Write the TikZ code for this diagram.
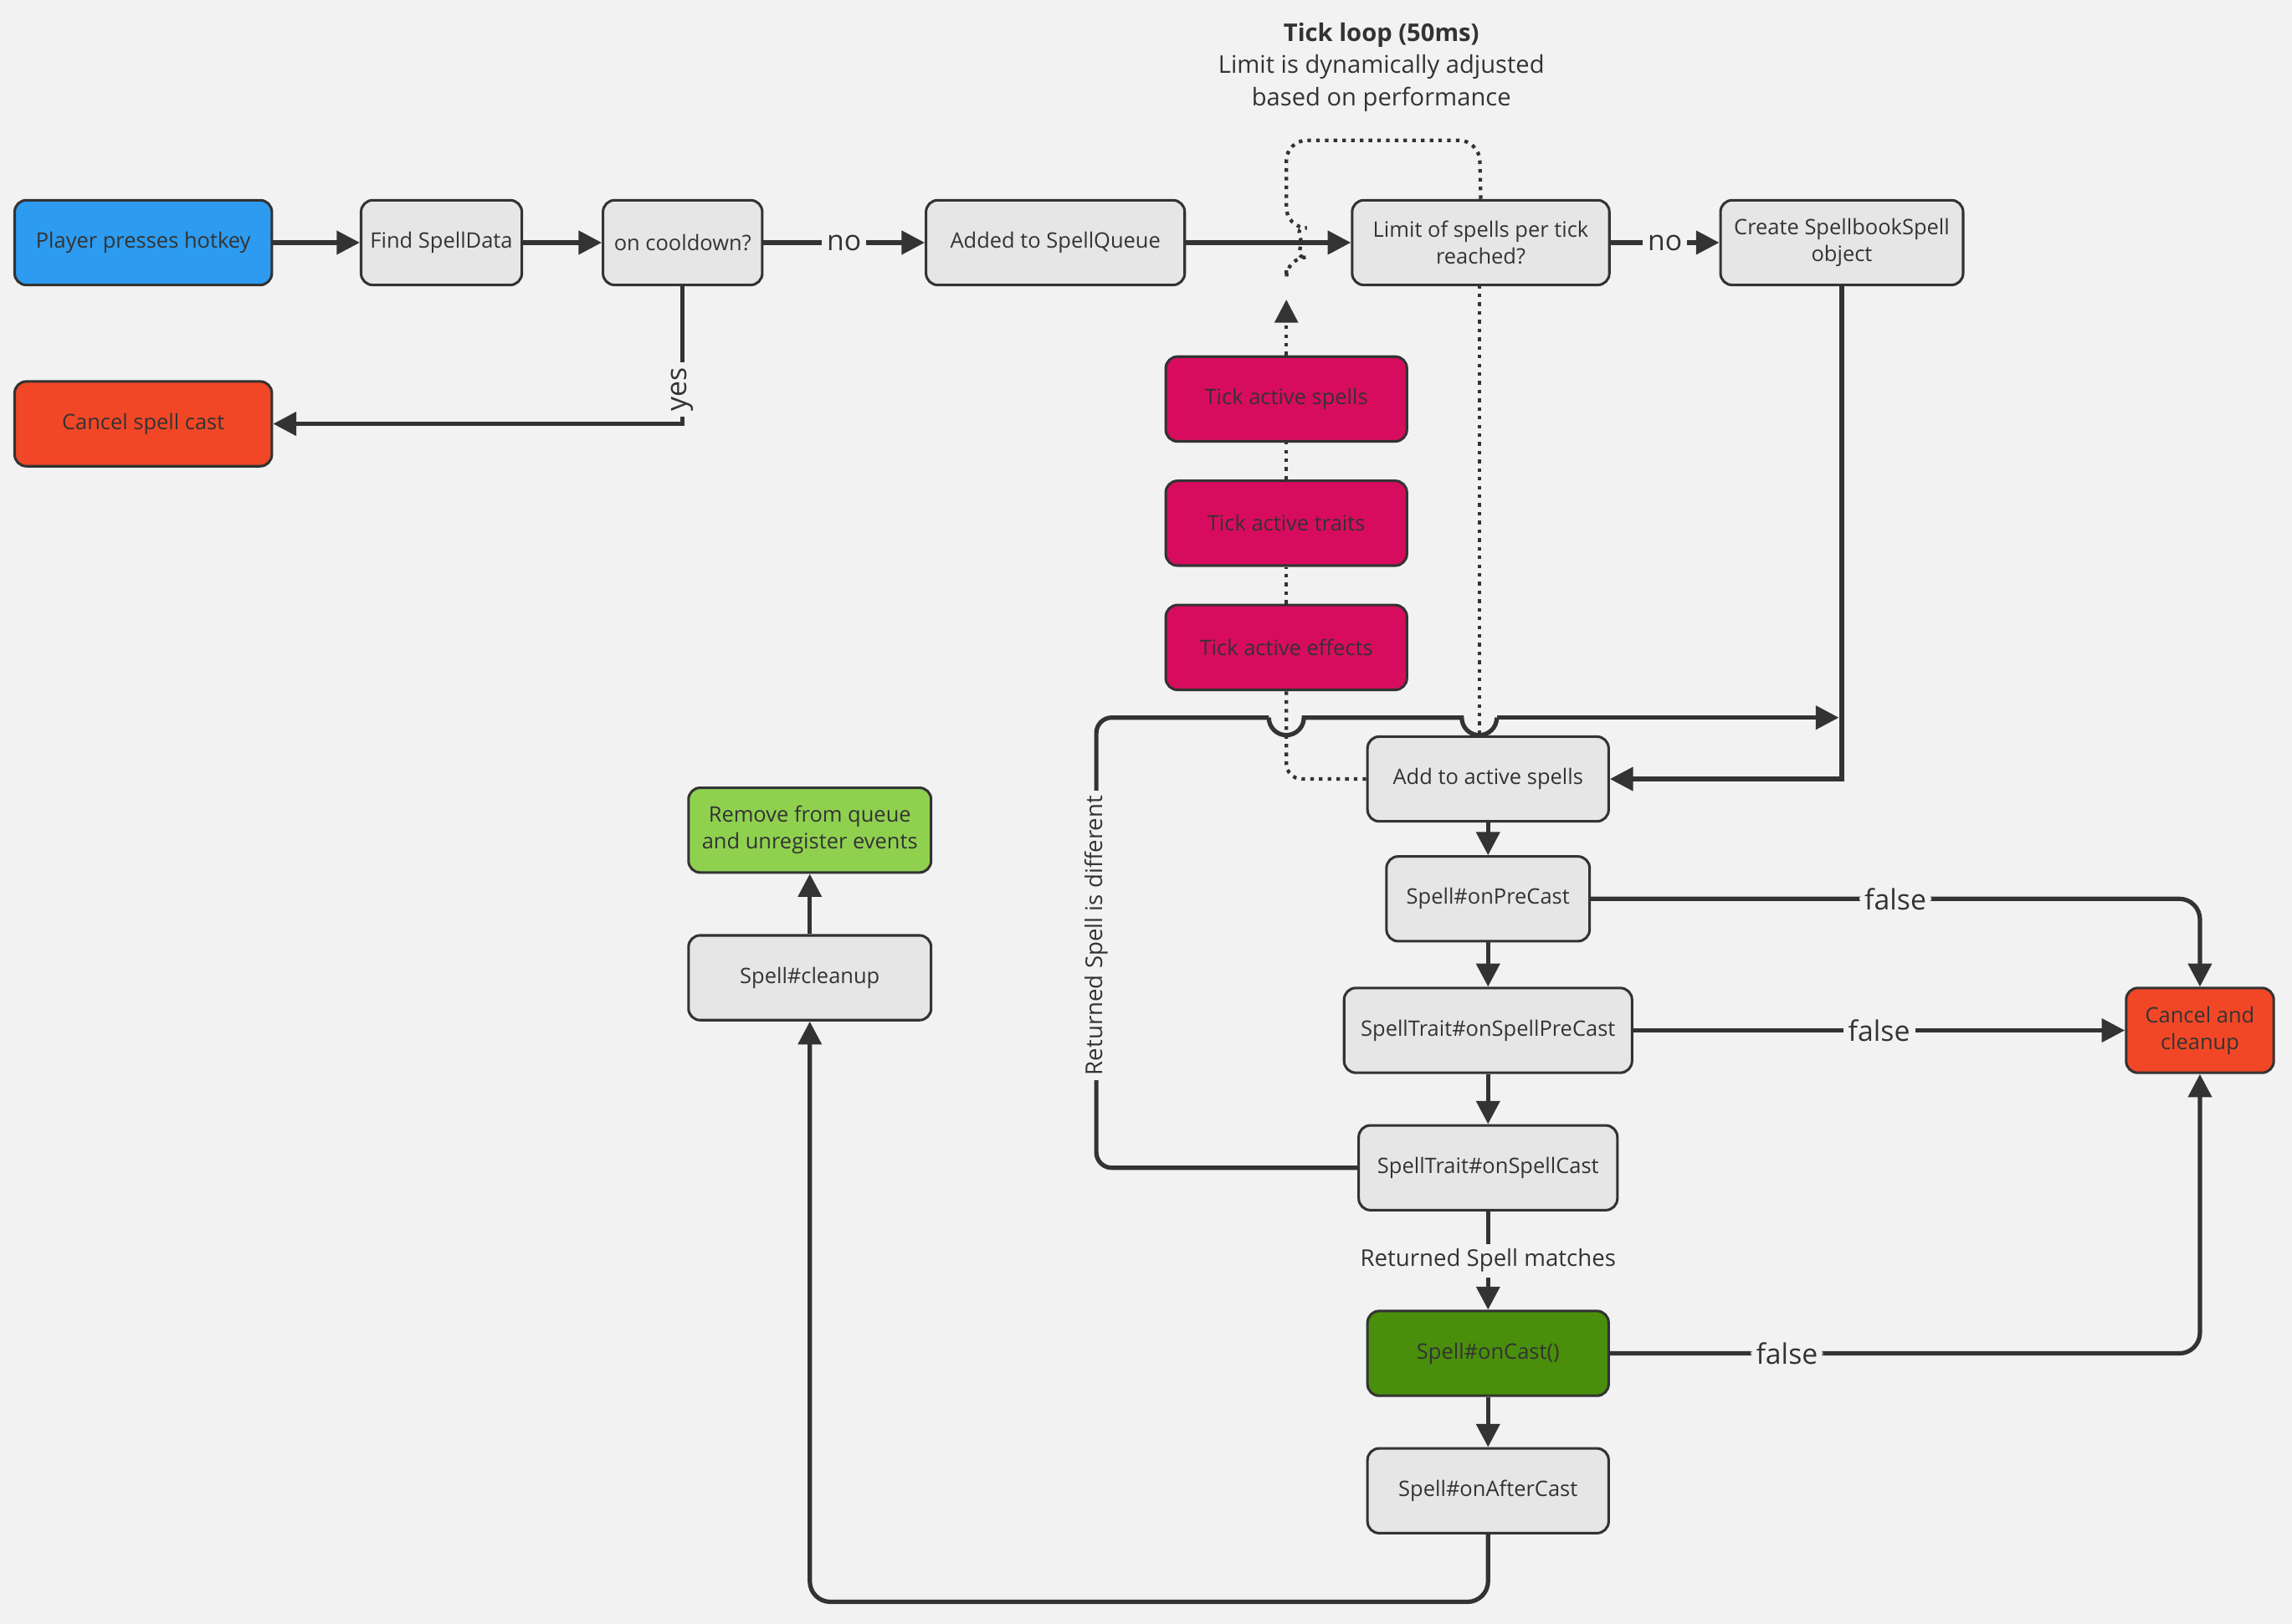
\documentclass[tikz,border=0pt]{standalone}
\usepackage{fontspec}
\setmainfont{Open Sans}
\usetikzlibrary{arrows.meta}
\definecolor{bg}{HTML}{F2F2F2}
\definecolor{ln}{HTML}{333333}
\definecolor{gr}{HTML}{E6E6E6}
\definecolor{bl}{HTML}{2D9BF0}
\definecolor{rd}{HTML}{F24726}
\definecolor{mg}{HTML}{D80C5E}
\definecolor{dg}{HTML}{4A8F0B}
\definecolor{lg}{HTML}{8FD14F}
\begin{document}
\begin{tikzpicture}[x=0.02cm,y=-0.02cm,
  box/.style={draw=ln,line width=1pt,rounded corners=0.16cm,fill=gr,minimum height=1.16cm,align=center,inner sep=1pt,font=\fontsize{8.3}{10.5}\selectfont,text=ln},
  con/.style={draw=ln,line width=1.7pt,-{Triangle[length=9pt,width=9pt]}},
  pl/.style={draw=ln,line width=1.7pt},
  dt/.style={draw=ln,line width=1.4pt,dotted},
  lab/.style={fill=bg,font=\fontsize{11}{13}\selectfont,text=ln,inner sep=2pt}]
\fill[bg] (0,0) rectangle (1568,1111);
\useasboundingbox (0,0) rectangle (1568,1111);
\node[box,fill=bl,minimum width=3.52cm] (hot) at (98,166) {Player presses hotkey};
\node[box,minimum width=2.2cm] (find) at (302,166) {Find SpellData};
\node[box,minimum width=2.18cm] (cool) at (467,166) {on cooldown?};
\node[box,minimum width=3.54cm] (queue) at (722,166) {Added to SpellQueue};
\node[box,minimum width=3.52cm] (limit) at (1013,166) {Limit of spells per tick\\reached?};
\node[box,minimum width=3.32cm] (create) at (1260,166) {Create SpellbookSpell\\object};
\node[box,fill=rd,minimum width=3.52cm] (cancel) at (98,290) {Cancel spell cast};
\node[box,fill=mg,minimum width=3.3cm] (ts) at (880,273) {Tick active spells};
\node[box,fill=mg,minimum width=3.3cm] (tt) at (880,358) {Tick active traits};
\node[box,fill=mg,minimum width=3.3cm] (te) at (880,443) {Tick active effects};
\node[box,minimum width=3.3cm] (add) at (1018,533) {Add to active spells};
\node[box,minimum width=2.78cm] (pre) at (1018,615) {Spell\#onPreCast};
\node[box,minimum width=3.94cm] (tpre) at (1018,705) {SpellTrait\#onSpellPreCast};
\node[box,minimum width=3.54cm] (tcast) at (1018,799) {SpellTrait\#onSpellCast};
\node[box,fill=dg,minimum width=3.3cm] (cast) at (1018,926) {Spell\#onCast()};
\node[box,minimum width=3.3cm] (after) at (1018,1020) {Spell\#onAfterCast};
\node[box,fill=rd,minimum width=2.02cm] (cc) at (1505,705) {Cancel and\\cleanup};
\node[box,minimum width=3.32cm] (clean) at (554,669) {Spell\#cleanup};
\node[box,fill=lg,minimum width=3.32cm] (rem) at (554,568) {Remove from queue\\and unregister events};
\node[align=center,text=ln,font=\fontsize{9.5}{12.5}\selectfont] (title) at (945,46) {\textbf{Tick loop (50ms)}\\Limit is dynamically adjusted\\based on performance};
% top row
\draw[con] (hot) -- (find);
\draw[con] (find) -- (cool);
\draw[con] (cool) -- node[lab]{no} (queue);
\draw[con] (queue.east) -- (limit.west);
\draw[con] (limit) -- node[lab]{no} (create);
\coordinate (yc) at (467,290);
\draw[con] (cool.south) -- node[lab,rotate=90,pos=0.75]{yes} (yc) -- (cancel.east);
\coordinate (cr) at (1260,533);
\draw[con] (create.south) -- (cr) -- (add.east);
% returned spell different
\coordinate (r1) at (750,799);
\coordinate (r2) at (750,491);
\coordinate (r3) at (1258,491);
\draw[pl,rounded corners=6pt] (tcast.west) -- (r1) -- (r2) -- (868,491);
\draw[pl] (868,491) arc (180:0:12) -- (1000,491) arc (180:0:12);
\draw[con] (1024,491) -- (r3);
\node[lab,rotate=90,font=\fontsize{9}{11}\selectfont] at (750,640) {Returned Spell is different};
% chain
\draw[con] (add) -- (pre);
\draw[con] (pre) -- (tpre);
\draw[con] (tpre) -- (tcast);
\draw[con] (tcast) -- node[lab,font=\fontsize{9}{11}\selectfont]{Returned Spell matches} (cast);
\draw[con] (cast) -- (after);
\coordinate (f1) at (1505,615);
\draw[con,rounded corners=8pt] (pre.east) -- node[lab]{false} (f1) -- (cc.north);
\draw[con] (tpre) -- node[lab]{false} (cc);
\coordinate (f3) at (1505,926);
\draw[con,rounded corners=8pt] (cast.east) -- node[lab,pos=0.3]{false} (f3) -- (cc.south);
\coordinate (a1) at (1018,1096);
\coordinate (a2) at (554,1096);
\draw[con,rounded corners=8pt] (after.south) -- (a1) -- (a2) -- (clean.south);
\draw[con] (clean) -- (rem);
% dotted loop
\draw[dt,rounded corners=6pt] (add.west) -- (880,533) -- (te.south);
\draw[dt] (te.north) -- (tt.south);
\draw[dt] (tt.north) -- (ts.south);
\draw[dt,-{Triangle[length=9pt,width=9pt]}] (ts.north) -- (880,205);
\draw[dt,rounded corners=8pt] (880,185) -- (880,176) arc (-90:-270:-10) -- (880,96) -- (1012,96) -- (limit.north);
\draw[dt] (1012,195) -- (add.north -| 1012,0);
\end{tikzpicture}
\end{document}
